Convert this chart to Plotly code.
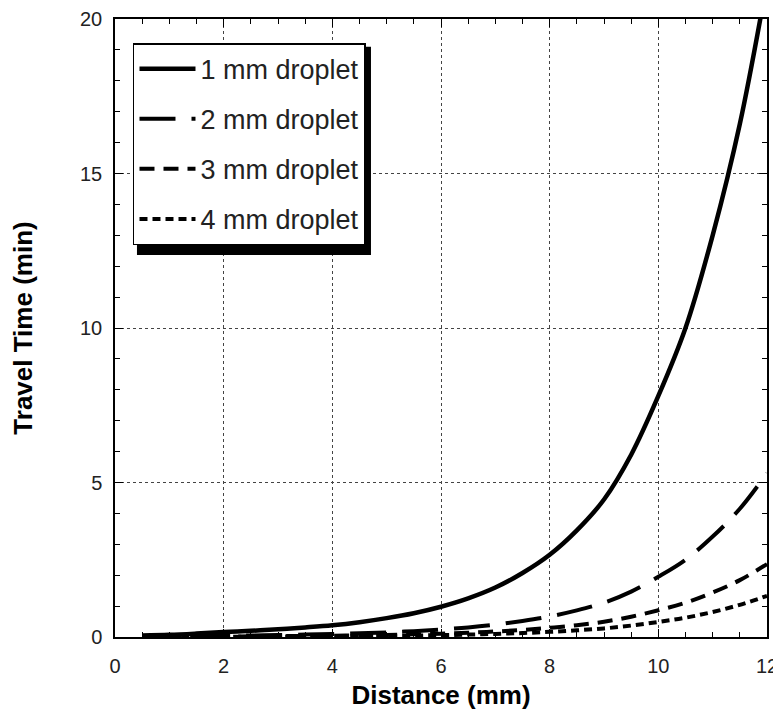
import plotly.graph_objects as go

distance_mm = [0.5, 1, 1.5, 2, 2.5, 3, 3.5, 4, 4.5, 5, 5.5, 6, 6.5, 7, 7.5, 8,
               8.5, 9, 9.5, 10, 10.5, 11, 11.5, 12]
time_1mm = [0.05, 0.07, 0.11, 0.16, 0.20, 0.25, 0.31, 0.38, 0.48, 0.61, 0.77, 0.98,
            1.25, 1.60, 2.07, 2.66, 3.45, 4.45, 5.9, 7.8, 10.0, 13.0, 16.6, 21.2]
time_2mm = [0.013, 0.018, 0.028, 0.04, 0.05, 0.063, 0.078, 0.095, 0.12, 0.15, 0.19, 0.245,
            0.31, 0.40, 0.52, 0.665, 0.86, 1.11, 1.47, 1.95, 2.5, 3.25, 4.15, 5.3]
time_3mm = [0.006, 0.008, 0.012, 0.018, 0.022, 0.028, 0.034, 0.042, 0.053, 0.068, 0.086, 0.109,
            0.139, 0.178, 0.23, 0.296, 0.383, 0.494, 0.656, 0.867, 1.11, 1.44, 1.84, 2.36]
time_4mm = [0.003, 0.004, 0.007, 0.01, 0.013, 0.016, 0.019, 0.024, 0.03, 0.038, 0.048, 0.061,
            0.078, 0.1, 0.129, 0.166, 0.216, 0.278, 0.369, 0.488, 0.625, 0.81, 1.04, 1.33]

series_names = ["1 mm droplet", "2 mm droplet", "3 mm droplet", "4 mm droplet"]
series_values = [time_1mm, time_2mm, time_3mm, time_4mm]
dashes = ["solid", "36px,16px", "15px,9px", "8px,5px"]
widths = [4.5, 4, 4, 4]

FONT = "Liberation Sans, Arial, Helvetica, sans-serif"

fig = go.Figure()
for i, (name, vals) in enumerate(zip(series_names, series_values)):
    fig.add_trace(go.Scatter(
        x=distance_mm, y=vals, mode="lines", name=name,
        legendgroup=f"g{i}",
        line=dict(color="black", width=widths[i], dash=dashes[i], shape="spline"),
    ))

# page body has an 8px margin: figure sized to fit the 781x717 window
fig.update_layout(
    width=773, height=709,
    margin=dict(l=107, r=14, t=11, b=80),
    paper_bgcolor="white", plot_bgcolor="white",
    font=dict(family=FONT, color="black", size=20),
    showlegend=True,
    legend=dict(
        x=0.0276, y=0.961, xanchor="left", yanchor="top",
        bgcolor="white", bordercolor="black", borderwidth=1.5,
        font=dict(family=FONT, size=27, color="#222"),
        tracegroupgap=12, itemwidth=56,
    ),
    shapes=[dict(
        type="rect", xref="paper", yref="paper", layer="above",
        x0=0.0337, x1=0.3926, y0=0.618, y1=0.955,
        fillcolor="black", line=dict(width=0),
    )],
)

fig.update_xaxes(
    range=[0, 12], dtick=2, tick0=0, automargin=False,
    ticks="inside", ticklen=8, tickwidth=1.2, tickcolor="black",
    minor=dict(dtick=0.5, ticks="inside", ticklen=5, tickcolor="black", showgrid=False),
    showgrid=True, gridcolor="#444", gridwidth=1, griddash="dot",
    showline=True, linecolor="black", linewidth=1.5, mirror="ticks",
    zeroline=False, ticklabelstandoff=10,
    tickfont=dict(size=20, color="#222"),
    title=dict(text="<b>Distance (mm)</b>", font=dict(size=26, color="black"), standoff=10),
)
fig.update_yaxes(
    range=[0, 20], dtick=5, tick0=0, automargin=False,
    ticks="inside", ticklen=8, tickwidth=1.2, tickcolor="black",
    minor=dict(dtick=1, ticks="inside", ticklen=5, tickcolor="black", showgrid=False),
    showgrid=True, gridcolor="#444", gridwidth=1, griddash="dot",
    showline=True, linecolor="black", linewidth=1.5, mirror="ticks",
    zeroline=False, ticklabelstandoff=7,
    tickfont=dict(size=20, color="#222"),
    title=dict(text="<b>Travel Time (min)</b>", font=dict(size=26, color="black"), standoff=40),
)

fig.write_html("out.html")
